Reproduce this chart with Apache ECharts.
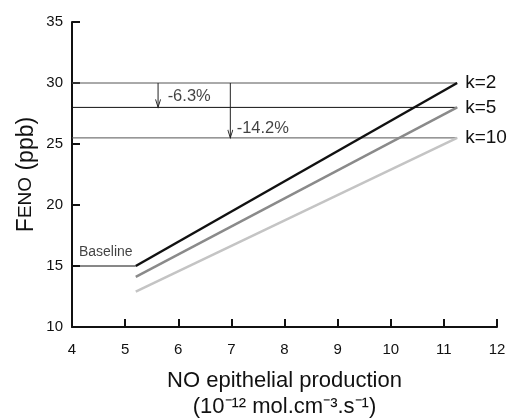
<!doctype html>
<html lang="en">
<head>
    <title>FeNO vs NO epithelial production</title>
    <script src="https://cdn.jsdelivr.net/npm/echarts@6/dist/echarts.min.js"></script>
</head>
<body style="margin:0;">
<div id="chart" style="width:511px;height:419px;"></div>
<script>

// line start/end on x axis
var xRange = [5.2, 11.25];
var k2 = [15, 30];
var k5 = [14.1, 28];
var k10 = [12.9, 25.5];

// reference levels and labels
var levels = [30, 28, 25.5];
var levelNames = ['k=2', 'k=5', 'k=10'];
var baseline = [[4, 15], [5.2, 15]];

// arrows: x, from, to, text
var arrows = [
    [5.62, 30, 28, '-6.3%'],
    [6.98, 30, 25.5, '-14.2%']
];
var arrowText = [[5.8, 28.9], [7.1, 26.3]];
var baselineText = [[4.13, 16.15, 'Baseline']];

var font = 'Liberation Sans, Arial, sans-serif';
var myChart = echarts.init(document.getElementById('chart'));

function pair(y) {
    return [[xRange[0], y[0]], [xRange[1], y[1]]];
}

var series = [];

levels.forEach(function (lv, i) {
    series.push({
        type: 'line',
        data: [[4, lv], [xRange[1], lv]],
        symbol: 'none',
        lineStyle: {color: i == 1 ? '#111' : '#555', width: 1},
        endLabel: {
            show: true, distance: 8, formatter: levelNames[i],
            fontSize: 19, color: '#111', fontFamily: font
        },
        z: 2
    });
});

series.push({
    type: 'line', data: baseline, symbol: 'none',
    lineStyle: {color: '#111', width: 1}
});

arrows.forEach(function (a) {
    series.push({
        type: 'line',
        data: [
            {value: [a[0], a[1]], symbol: 'none'},
            {value: [a[0], a[2]], symbol: 'path://M0 10 L5 0 L10 10', symbolSize: [5, 8],
                symbolRotate: 180, symbolOffset: [0, -4]}
        ],
        showSymbol: true,
        itemStyle: {color: 'rgba(0,0,0,0)', borderColor: '#222', borderWidth: 1},
        lineStyle: {color: '#222', width: 1},
        z: 3
    });
});

series.push({
    type: 'scatter',
    symbolSize: 0,
    data: arrows.map(function (a, i) {
        return {value: arrowText[i], name: a[3]};
    }).concat(baselineText.map(function (b) {
        return {value: [b[0], b[1]], name: b[2], label: {fontSize: 14}};
    })),
    label: {show: true, formatter: '{b}', position: 'inside', align: 'left',
        fontSize: 16.5, color: '#111', fontFamily: font},
    silent: true
});

series.push({type: 'line', data: pair(k10), symbol: 'none', lineStyle: {color: '#c4c4c4', width: 2.5}, z: 4});
series.push({type: 'line', data: pair(k5), symbol: 'none', lineStyle: {color: '#8a8a8a', width: 2.5}, z: 4});
series.push({type: 'line', data: pair(k2), symbol: 'none', lineStyle: {color: '#111', width: 2.5}, z: 5});

myChart.setOption({
    animation: false,
    backgroundColor: '#fff',
    grid: {left: 72, right: 14, top: 22, bottom: 92, outerBoundsMode: 'none', containLabel: false},
    xAxis: {
        type: 'value', min: 4, max: 12, interval: 1,
        axisLine: {onZero: false, lineStyle: {color: '#111', width: 2}},
        axisTick: {inside: true, length: 8, lineStyle: {color: '#111', width: 2}},
        axisLabel: {fontSize: 15, color: '#111', margin: 10, fontFamily: font},
        splitLine: {show: false},
        name: 'NO epithelial production\n(10\u207B\u00B9\u00B2 mol.cm\u207B\u00B3.s\u207B\u00B9)',
        nameLocation: 'middle',
        nameGap: 41,
        nameMoveOverlap: false,
        nameTextStyle: {fontSize: 22, color: '#111', fontFamily: font, lineHeight: 26}
    },
    yAxis: {
        type: 'value', min: 10, max: 35, interval: 5,
        axisLine: {show: true, lineStyle: {color: '#111', width: 2}},
        axisTick: {show: true, inside: true, length: 8, lineStyle: {color: '#111', width: 2}},
        axisLabel: {fontSize: 15, color: '#111', margin: 9, fontFamily: font},
        splitLine: {show: false},
        name: '{a|F}{b|ENO}{a| (ppb)}',
        nameLocation: 'middle',
        nameGap: 26,
        nameMoveOverlap: false,
        nameTextStyle: {
            rich: {
                a: {fontSize: 23, color: '#111', fontFamily: font},
                b: {fontSize: 19, color: '#111', fontFamily: font}
            }
        }
    },
    series: series
});

</script>
</body>
</html>
